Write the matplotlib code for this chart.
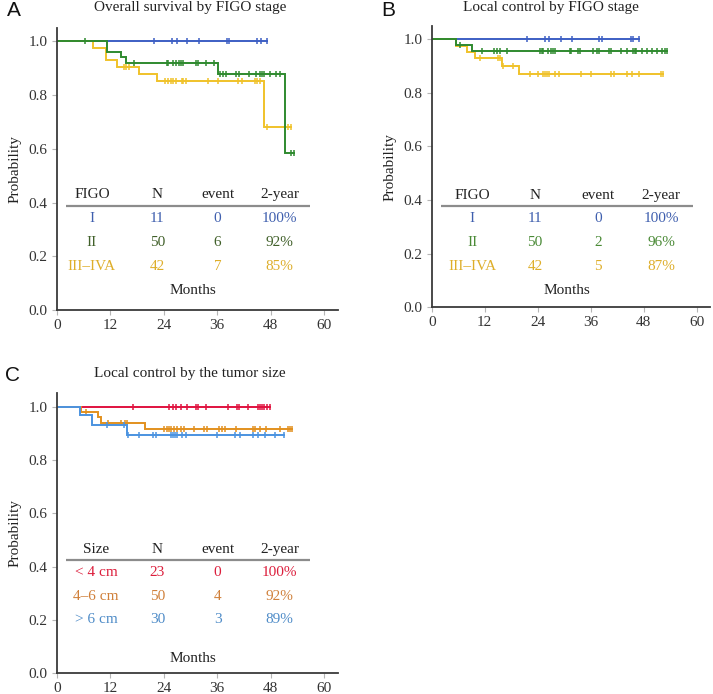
import matplotlib
matplotlib.use("Agg")
import matplotlib.pyplot as plt
import numpy as np

# ─────────────────────────────────────────────
# Data
# ─────────────────────────────────────────────

# Panel A — overall survival by FIGO stage
a_I_events   = []
a_I_levels   = []
a_I_censor   = [21.8, 25.8, 26.9, 29.3, 31.9, 38.1, 38.7, 45.0, 45.9, 47.2]

a_II_events  = [11.2, 14.5, 15.6, 36.3, 51.3]
a_II_levels  = [0.959, 0.940, 0.920, 0.879, 0.585]
a_II_censor  = [6.4, 17.3, 24.7, 25.0, 26.2, 26.7, 27.5, 27.8, 28.3, 31.2, 31.6,
                33.5, 35.4, 36.7, 37.4, 38.0, 40.2, 40.8, 43.1, 44.8, 45.7, 46.1,
                46.5, 47.8, 49.1, 50.2, 52.5, 53.2]

a_III_events = [8.1, 11.1, 13.6, 18.5, 22.6, 46.4]
a_III_levels = [0.976, 0.929, 0.905, 0.878, 0.852, 0.681]
a_III_censor = [15.2, 15.6, 16.2, 24.4, 25.0, 25.6, 26.1, 26.7, 28.0, 28.4, 29.1,
                33.9, 36.1, 40.6, 41.6, 44.4, 45.0, 45.5, 47.2, 51.9, 52.5]

# Panel B — local control by FIGO stage
b_I_events   = []
b_I_levels   = []
b_I_censor   = [21.6, 25.7, 26.6, 29.2, 31.7, 37.9, 38.6, 45.1, 45.6, 46.9]

b_II_events  = [5.5, 9.2]
b_II_levels  = [0.979, 0.958]
b_II_censor  = [6.4, 11.3, 14.1, 14.7, 15.5, 17.1, 24.5, 24.9, 25.3, 26.4, 27.0,
                27.4, 27.9, 31.2, 31.5, 33.2, 33.6, 36.6, 37.4, 37.9, 40.2, 40.6,
                42.9, 44.1, 45.6, 46.0, 46.3, 47.5, 48.7, 49.8, 50.9, 52.1, 52.8, 53.2]

b_III_events = [5.4, 7.9, 9.7, 15.9, 19.8]
b_III_levels = [0.976, 0.952, 0.929, 0.901, 0.871]
b_III_censor = [11.0, 14.9, 15.5, 16.1, 18.5, 22.3, 24.1, 25.1, 25.6, 26.0, 26.6,
                27.8, 28.9, 33.8, 36.0, 40.6, 41.3, 44.3, 45.3, 47.0, 51.8, 52.4]

# Panel C — local control by tumor size
c_s_events   = []
c_s_levels   = []
c_s_censor   = [17.2, 25.2, 26.0, 26.7, 27.8, 29.2, 31.2, 31.6, 33.5, 38.5, 40.5,
                40.8, 42.9, 45.1, 45.5, 46.0, 46.6, 47.2, 47.8]

c_m_events   = [5.4, 9.2, 9.9, 19.9]
c_m_levels   = [0.980, 0.960, 0.940, 0.918]
c_m_censor   = [6.5, 11.5, 14.4, 15.3, 15.8, 24.1, 24.8, 25.2, 25.6, 26.3, 27.1,
                27.8, 28.6, 30.8, 33.1, 33.7, 36.5, 37.1, 37.8, 40.2, 44.0, 44.4,
                45.5, 47.0, 50.0, 51.8, 52.3, 52.8]

c_l_events   = [5.3, 7.9, 15.8]
c_l_levels   = [0.967, 0.933, 0.892]
c_l_censor   = [11.3, 15.2, 16.0, 18.4, 21.7, 22.2, 25.6, 26.0, 26.5, 27.1, 28.0,
                29.0, 36.0, 39.9, 41.2, 44.0, 45.1, 46.8, 48.9, 51.0]

# Tables
figo_header  = ["FIGO", "N", "event", "2-year"]
a_table_rows = [["I", "11", "0", "100%"],
                ["II", "50", "6", "92%"],
                ["III\u2013IVA", "42", "7", "85%"]]
b_table_rows = [["I", "11", "0", "100%"],
                ["II", "50", "2", "96%"],
                ["III\u2013IVA", "42", "5", "87%"]]
size_header  = ["Size", "N", "event", "2-year"]
c_table_rows = [["< 4 cm", "23", "0", "100%"],
                ["4\u20136 cm", "50", "4", "92%"],
                ["> 6 cm", "30", "3", "89%"]]

titles = ["Overall survival by FIGO stage",
          "Local control by FIGO stage",
          "Local control by the tumor size"]
x_ticks = [0, 12, 24, 36, 48, 60]
y_ticks = [0.0, 0.2, 0.4, 0.6, 0.8, 1.0]


# ─────────────────────────────────────────────
# Style
# ─────────────────────────────────────────────

SERIF = "Liberation Serif"
W, H = 713, 694
FS = 11

BLUE, GREEN, GOLD = "#3d5fc4", "#2f8a2f", "#f0c22a"
RED, ORANGE, SKY = "#e0123f", "#e2901e", "#4b93e0"

TXT_BLUE, TXT_GOLD = "#3f5fae", "#deae2a"


def km_curve(ax, events, levels, censor, color):
    t = [0.0] + list(events)
    s = [1.0] + list(levels)
    t_end = max(censor + list(events))
    ax.step(t + [t_end], s + [s[-1]], where="post", color=color,
            linewidth=1.4, solid_joinstyle="miter")
    idx = np.searchsorted(t, censor, side="right") - 1
    ax.plot(censor, np.array(s)[idx], linestyle="none", marker="|",
            markersize=5, markeredgewidth=1.1, color=color)


def style_axes(ax):
    ax.set_xlim(0, 63)
    ax.set_ylim(0, 1.05)
    ax.set_xticks(x_ticks)
    ax.set_yticks(y_ticks)
    ax.set_yticklabels([f"{v:.1f}" for v in y_ticks])
    for side in ["top", "right"]:
        ax.spines[side].set_visible(False)
    for side in ["left", "bottom"]:
        ax.spines[side].set_color("#3a3a3a")
        ax.spines[side].set_linewidth(1.3)
    ax.tick_params(length=3.5, width=0.8, color="#b5b5b5", pad=3,
                   labelsize=FS, labelcolor="#333333")
    for lab in ax.get_xticklabels() + ax.get_yticklabels():
        lab.set_fontfamily(SERIF)
    ax.set_ylabel("Probability", fontfamily=SERIF, fontsize=FS,
                  color="#222222", labelpad=5)


def draw_table(ax, header, rows, colors, xs, ys, line_x, months_xy):
    for x, h in zip(xs, header):
        ax.text(x, ys[0], h, ha="center", va="center", fontfamily=SERIF,
                fontsize=FS, color="#222222")
    ax.plot(line_x, [ys[1], ys[1]], color="#8c8c8c", linewidth=1.6,
            solid_capstyle="butt")
    for row, y, col in zip(rows, ys[2:], colors):
        for x, cell in zip(xs, row):
            ax.text(x, y, cell, ha="center", va="center", fontfamily=SERIF,
                    fontsize=FS, color=col)
    ax.text(months_xy[0], months_xy[1], "Months", ha="center", va="center",
            fontfamily=SERIF, fontsize=FS, color="#222222")


fig = plt.figure(figsize=(W / 100, H / 100), dpi=100)

def px_axes(left, right, top_1, bottom_0):
    # top_1 is pixel row of y=1.0, bottom_0 row of y=0
    unit = (bottom_0 - top_1)
    top = top_1 - 0.05 * unit
    return fig.add_axes([left / W, 1 - bottom_0 / H,
                         (right - left) / W, (bottom_0 - top) / H])

axA = px_axes(56.7, 337.5, 41.3, 310.0)
axB = px_axes(431.7, 710.0, 39.3, 307.3)
axC = px_axes(56.7, 337.5, 406.7, 673.3)

# Panel A
km_curve(axA, a_I_events, a_I_levels, a_I_censor, BLUE)
km_curve(axA, a_III_events, a_III_levels, a_III_censor, GOLD)
km_curve(axA, a_II_events, a_II_levels, a_II_censor, GREEN)
style_axes(axA)
draw_table(axA, figo_header, a_table_rows, [TXT_BLUE, "#41602a", TXT_GOLD],
           [7.9, 22.6, 36.1, 50.0], [0.428, 0.388, 0.341, 0.250, 0.161],
           [2.0, 56.8], (30.5, 0.071))

# Panel B
km_curve(axB, b_I_events, b_I_levels, b_I_censor, BLUE)
km_curve(axB, b_III_events, b_III_levels, b_III_censor, GOLD)
km_curve(axB, b_II_events, b_II_levels, b_II_censor, GREEN)
style_axes(axB)
draw_table(axB, figo_header, b_table_rows, [TXT_BLUE, "#4a8a36", TXT_GOLD],
           [9.2, 23.4, 37.7, 51.9], [0.419, 0.379, 0.332, 0.241, 0.151],
           [2.1, 59.2], (30.6, 0.061))

# Panel C
km_curve(axC, c_s_events, c_s_levels, c_s_censor, RED)
km_curve(axC, c_m_events, c_m_levels, c_m_censor, ORANGE)
km_curve(axC, c_l_events, c_l_levels, c_l_censor, SKY)
style_axes(axC)
draw_table(axC, size_header, c_table_rows, ["#dc1e3c", "#d0803a", "#4f8cc8"],
           [8.8, 22.6, 36.1, 50.0], [0.465, 0.425, 0.378, 0.288, 0.200],
           [2.0, 56.8], (30.5, 0.056))

# Titles and panel letters (pixel positions)
for (x, y), t in zip([(190, 8), (551, 8), (190, 373)], titles):
    fig.text(x / W, 1 - y / H, t, ha="center", va="center",
             fontfamily=SERIF, fontsize=FS, color="#222222")
for (x, y), letter in zip([(14, 11), (388, 11), (12, 375)], ["A", "B", "C"]):
    fig.text(x / W, 1 - y / H, letter, ha="center", va="center",
             fontfamily="Liberation Sans", fontsize=15, color="#111111")

fig.savefig("out.png", dpi=100)
